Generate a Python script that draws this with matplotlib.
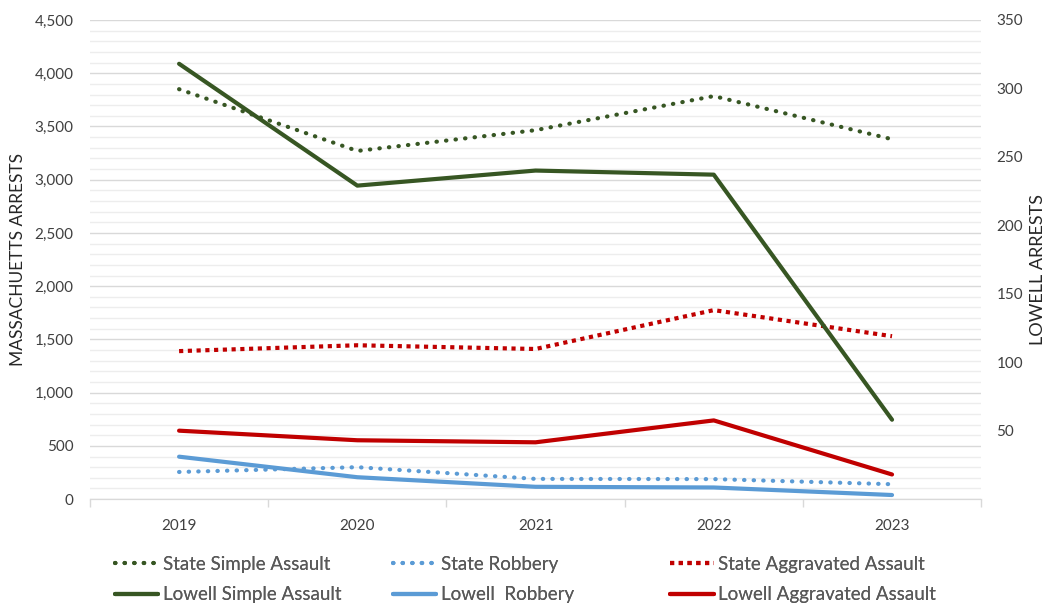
import matplotlib
matplotlib.use("Agg")
import matplotlib.pyplot as plt
from matplotlib.ticker import MultipleLocator, FuncFormatter

plt.rcParams['font.family'] = ['Lato', 'DejaVu Sans']

years = ['2019', '2020', '2021', '2022', '2023']

# Massachusetts arrests (left axis)
state_simple = [3850, 3270, 3465, 3785, 3380]
state_robbery = [255, 300, 190, 188, 140]
state_aggravated = [1390, 1445, 1410, 1775, 1530]

# Lowell arrests (right axis)
lowell_simple = [318, 229, 240, 237, 58]
lowell_robbery = [31, 16, 9, 8.5, 3]
lowell_aggravated = [50, 43, 41.5, 57.5, 18]

GREEN = '#375623'
BLUE = '#5B9BD5'
RED = '#C00000'
TXT = '#404040'

fig = plt.figure(figsize=(10.46, 6.05), dpi=100)
ax = fig.add_axes([0.086, 0.175, 0.852, 0.792])
ax2 = ax.twinx()

x = list(range(len(years)))

dots = (0, (0.1, 2.2))
l1, = ax.plot(x, state_simple, color=GREEN, lw=3, linestyle=dots,
              dash_capstyle='round', label='State Simple Assault')
l2, = ax.plot(x, state_robbery, color=BLUE, lw=3, linestyle=dots,
              dash_capstyle='round', label='State Robbery')
l3, = ax.plot(x, state_aggravated, color=RED, lw=3, linestyle=(0, (1.0, 1.1)),
              dash_capstyle='butt', label='State Aggravated Assault')
l4, = ax2.plot(x, lowell_simple, color=GREEN, lw=3, solid_capstyle='round',
               label='Lowell Simple Assault')
l5, = ax2.plot(x, lowell_robbery, color=BLUE, lw=3, solid_capstyle='round',
               label='Lowell  Robbery')
l6, = ax2.plot(x, lowell_aggravated, color=RED, lw=3, solid_capstyle='round',
               label='Lowell Aggravated Assault')

ax.set_xlim(-0.5, len(years) - 0.5)
ax.set_ylim(0, 4500)
ax2.set_ylim(0, 350)

# grid: major every 500, minor every 100
ax.yaxis.set_major_locator(MultipleLocator(500))
ax.yaxis.set_minor_locator(MultipleLocator(100))
ax.yaxis.set_major_formatter(FuncFormatter(lambda v, p: f'{int(v):,}'))
ax.grid(axis='y', which='major', color='#D9D9D9', lw=1)
ax.grid(axis='y', which='minor', color='#EDEDED', lw=1)
ax.set_axisbelow(True)

ax.set_xticks(x)
ax.set_xticklabels(years)
ax.set_xticks([i - 0.5 for i in range(len(years) + 1)], minor=True)
ax.tick_params(axis='x', which='major', length=0, pad=14, labelsize=11, labelcolor=TXT)
ax.tick_params(axis='x', which='minor', length=6, color='#D9D9D9', width=1)
ax.tick_params(axis='y', which='both', length=0, pad=12, labelsize=11, labelcolor=TXT)

ax2.set_yticks([50, 100, 150, 200, 250, 300, 350])
ax2.tick_params(axis='y', length=0, pad=11, labelsize=11, labelcolor=TXT)

for a in (ax, ax2):
    for s in ('top', 'left', 'right'):
        a.spines[s].set_visible(False)
    a.spines['bottom'].set_color('#D9D9D9')

ax.set_ylabel('MASSACHUETTS ARRESTS', fontsize=12.5, color='#262626')
ax.yaxis.set_label_coords(-0.072, 0.5)
ax2.set_ylabel('LOWELL ARRESTS', fontsize=13, color='#262626', rotation=90)
ax2.yaxis.set_label_coords(1.055, 0.48)

# legend: three evenly spaced columns under the plot
cols = [(l1, l4), (l2, l5), (l3, l6)]
xs = [0.110, 0.376, 0.641]
for (top, bottom), lx in zip(cols, xs):
    leg = fig.legend(handles=[top, bottom], loc='upper left',
                     bbox_to_anchor=(lx, 0.081), frameon=False,
                     fontsize=13.5, handlelength=2.3, handletextpad=0.25,
                     labelspacing=0.71, borderpad=0, borderaxespad=0,
                     labelcolor='#595959')
    fig.add_artist(leg)

fig.savefig('out.png', dpi=100)
